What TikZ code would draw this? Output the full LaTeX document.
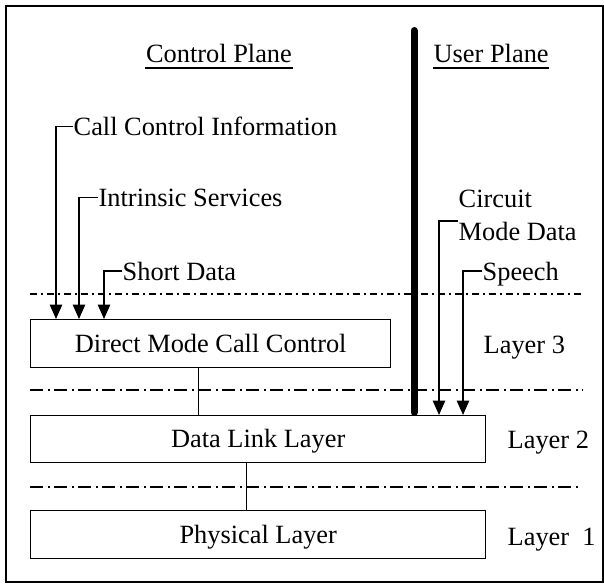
\documentclass[tikz,border=0pt]{standalone}
\usepackage{fontspec}
\setmainfont{Liberation Serif}
\usetikzlibrary{arrows.meta}

\tikzset{
  layerbox/.style={draw,inner sep=0pt,minimum height=9.6mm,text height=1em,text depth=0pt,anchor=north west},
  lbl/.style={inner sep=0pt,anchor=base west,text depth=0pt},
  feed/.style={-{Triangle[length=2.9mm,width=2.5mm]}},
  uline/.style={line width=1.1pt},
  split/.style={dash pattern=on 2.6mm off 0.9mm on 0.4mm off 0.9mm},
  splittop/.style={dash pattern=on 1.4mm off 0.8mm on 0.4mm off 0.8mm}
}

\begin{document}
\begin{tikzpicture}[x=0.2mm,y=-0.2mm,thick,font=\fontsize{15pt}{18pt}\selectfont]
        \useasboundingbox (0,0) rectangle (604,584);
        %cornice
        \draw (6,6) rectangle (603,582);
        % piani
        \node[inner sep=0pt,anchor=base] (cplane) at (219,63) {Control Plane};
        \node[lbl] (uplane) at (433,63) {User Plane};
        \draw[uline] ([yshift=-1mm]cplane.base west) -- ([yshift=-1mm]cplane.base east);
        \draw[uline] ([yshift=-1mm]uplane.base west) -- ([yshift=-1mm]uplane.base east);
        % separatori tra i livelli
        \draw[splittop] (30,294) -- (583,294);
        \draw[split] (30,390) -- (583,390);
        \draw[split] (30,487) -- (580,487);
        % blocchi
        \node[layerbox,minimum width=72mm] (dmcc) at (30,319) {Direct Mode Call Control};
        \node[layerbox,minimum width=91mm,minimum height=9.4mm] (dl) at (30,415) {Data Link Layer};
        \node[layerbox,minimum width=91mm] (phys) at (30,510) {Physical Layer};
        \draw ([xshift=-2.4mm]dmcc.south) -- ([xshift=-2.4mm]dmcc.south |- dl.north);
        \draw ([xshift=-2.4mm]dl.south) -- ([xshift=-2.4mm]phys.north);
        % livelli
        \node[lbl] (l3) at (483,353) {Layer 3};
        \node[lbl] (l2) at (507,448) {Layer 2};
        \node[lbl] (l1) at (507,545) {Layer\ \ 1};
        % linea tra i piani
        \coordinate (ptop) at (414,30.5);
        \draw[line width=1.4mm,line cap=round,shorten >=0.5mm] (ptop) -- (ptop |- dl.north);
        % ingressi piano di controllo
        \node[lbl] (ccinfo) at (73,135.5) {Call Control Information};
        \node[lbl] (intserv) at (98,206) {Intrinsic Services};
        \node[lbl] (sdata) at (122,280) {Short Data};
        \draw[feed] (ccinfo.west) -| ([xshift=5.2mm]dmcc.north west);
        \draw[feed] (intserv.west) -| ([xshift=9.8mm]dmcc.north west);
        \draw[feed] (sdata.west) -| ([xshift=14.8mm]dmcc.north west);
        % ingressi piano utente
        \node[lbl] (circ) at (458,207) {Circuit};
        \node[lbl] (cmode) at (458,240) {Mode Data};
        \node[lbl] (speech) at (482,280) {Speech};
        \draw[feed] (cmode.north west) -| ([xshift=81.8mm]dl.north west);
        \draw[feed] (speech.west) -| ([xshift=86.6mm]dl.north west);
\end{tikzpicture}
\end{document}
